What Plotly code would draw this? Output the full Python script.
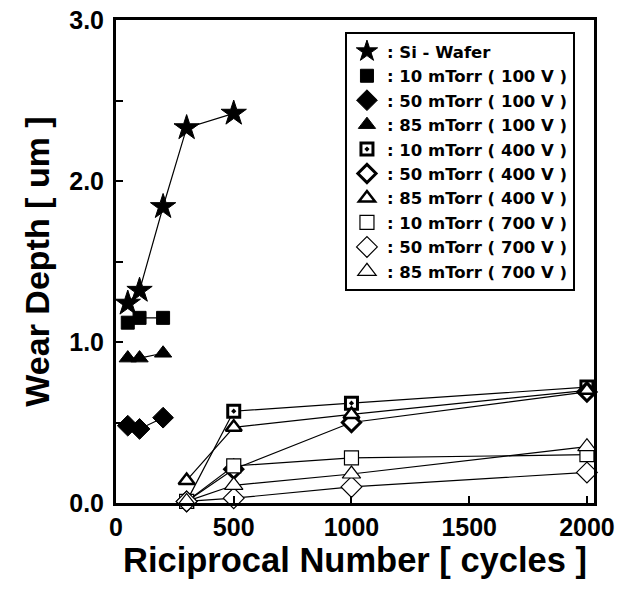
import plotly.graph_objects as go

# Reciprocating cycles at which wear depth was measured
cycles_si = [50, 100, 200, 300, 500]
cycles_100v = [50, 100, 200]
cycles_hv = [300, 500, 1000, 2000]

# Wear depth [um]
si_wafer = [1.24, 1.32, 1.84, 2.33, 2.42]

t10_100v = [1.12, 1.15, 1.15]
t50_100v = [0.48, 0.46, 0.53]
t85_100v = [0.90, 0.90, 0.93]

t10_400v = [0.01, 0.57, 0.62, 0.72]
t50_400v = [0.01, 0.21, 0.50, 0.69]
t85_400v = [0.14, 0.47, 0.55, 0.70]

t10_700v = [0.01, 0.23, 0.28, 0.30]
t50_700v = [0.01, 0.03, 0.10, 0.19]
t85_700v = [0.01, 0.11, 0.18, 0.35]

x_ticks = [0, 500, 1000, 1500, 2000]
y_ticks = [0.0, 1.0, 2.0, 3.0]

series = [
    (": Si - Wafer", cycles_si, si_wafer, "star", 19, "black", 1),
    (": 10 mTorr ( 100 V )", cycles_100v, t10_100v, "square", 13, "black", 1),
    (": 50 mTorr ( 100 V )", cycles_100v, t50_100v, "diamond", 16, "black", 1),
    (": 85 mTorr ( 100 V )", cycles_100v, t85_100v, "triangle-up", 15, "black", 1),
    (": 10 mTorr ( 400 V )", cycles_hv, t10_400v, "square-dot", 12, "white", 3),
    (": 50 mTorr ( 400 V )", cycles_hv, t50_400v, "diamond", 14, "white", 3),
    (": 85 mTorr ( 400 V )", cycles_hv, t85_400v, "triangle-up", 14, "white", 2.5),
    (": 10 mTorr ( 700 V )", cycles_hv, t10_700v, "square", 14, "white", 1.2),
    (": 50 mTorr ( 700 V )", cycles_hv, t50_700v, "diamond", 16, "white", 1.2),
    (": 85 mTorr ( 700 V )", cycles_hv, t85_700v, "triangle-up", 16, "white", 1.2),
]

fig = go.Figure()

# connecting lines first, so every marker sits on top of them
for name, xs, ys, sym, size, fill, lw in series:
    fig.add_trace(go.Scatter(
        x=xs, y=ys, mode="lines", line=dict(color="black", width=1.2),
        showlegend=False, hoverinfo="skip", cliponaxis=False,
    ))

for name, xs, ys, sym, size, fill, lw in series:
    fig.add_trace(go.Scatter(
        x=xs, y=ys, mode="markers", name=name,
        marker=dict(symbol=sym, size=size, color=fill,
                    line=dict(color="black", width=lw)),
        cliponaxis=False,
    ))

font_family = "Liberation Sans, Arial, sans-serif"
legend_family = "DejaVu Sans, Liberation Sans, sans-serif"

fig.update_layout(
    width=617, height=591,
    margin=dict(l=116, r=23, t=20, b=88),
    paper_bgcolor="white", plot_bgcolor="white",
    font=dict(family=font_family, color="black"),
    showlegend=True,
    legend=dict(
        x=0.479, y=0.975, xanchor="left", yanchor="top",
        bgcolor="white", bordercolor="black", borderwidth=2,
        font=dict(size=16.5, weight="bold", family=legend_family),
        tracegroupgap=0, itemwidth=30,
    ),
)

fig.update_xaxes(
    range=[0, 2030], tickvals=x_ticks, ticktext=[str(v) for v in x_ticks],
    automargin=False,
    showgrid=False, zeroline=False,
    showline=True, linecolor="black", linewidth=3, mirror=True,
    ticks="inside", ticklen=7, tickwidth=2, tickcolor="black",
    tickfont=dict(size=25, weight="bold"),
    title=dict(text="Riciprocal Number [ cycles ]",
               font=dict(size=34.5, weight="bold"), standoff=4),
)

fig.update_yaxes(
    range=[0, 3], tickvals=y_ticks, ticktext=[f"{v:.1f}" for v in y_ticks],
    automargin=False,
    showgrid=False, zeroline=False,
    showline=True, linecolor="black", linewidth=3, mirror=True,
    ticks="inside", ticklen=7, tickwidth=2, tickcolor="black",
    minor=dict(dtick=0.5, ticks="inside", ticklen=7, tickwidth=2, tickcolor="black", showgrid=False),
    tickfont=dict(size=25, weight="bold"),
    ticklabelstandoff=4,
    title=dict(text="Wear Depth [ um ]",
               font=dict(size=34, weight="bold"), standoff=10),
)

fig.write_html("out.html")
